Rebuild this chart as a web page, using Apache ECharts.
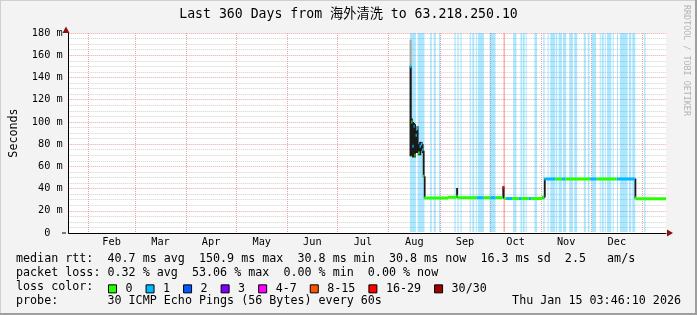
<!DOCTYPE html>
<html>
<head>
<meta charset="utf-8">
<script src="https://cdn.jsdelivr.net/npm/echarts@6/dist/echarts.min.js"></script>
<style>
  html, body { margin: 0; padding: 0; background: #f3f3f3; }
  #chart { width: 697px; height: 315px; }
</style>
</head>
<body>
<div id="chart"></div>
<script>
// time range of the graph
const START = '2025-01-20 03:46:10';
const END = '2026-01-15 03:46:10';

// month grid lines and the labels centred in each month
const monthStarts = ['2025-02-01', '2025-03-01', '2025-04-01', '2025-05-01', '2025-06-01', '2025-07-01',
  '2025-08-01', '2025-09-01', '2025-10-01', '2025-11-01', '2025-12-01', '2026-01-01'];
const monthLabels = ['Feb', 'Mar', 'Apr', 'May', 'Jun', 'Jul', 'Aug', 'Sep', 'Oct', 'Nov', 'Dec'];

// loss colour legend
const lossLabels = ['0', '1', '2', '3', '4-7', '8-15', '16-29', '30/30'];
const lossColors = ['#26ff00', '#00b8ff', '#0059ff', '#7e00ff', '#ff00ff', '#ff5500', '#ff0000', '#a00000'];

// loss background bars: [from, to, loss level]
const lossBands = [
  ['2025-08-13 20:00', '2025-08-17 10:00', 1], ['2025-08-18 11:00', '2025-08-22 15:00', 1],
  ['2025-08-26 00:00', '2025-08-27 00:00', 1], ['2025-08-28 05:00', '2025-08-29 10:00', 1],
  ['2025-08-31 10:00', '2025-09-01 03:00', 1], ['2025-09-09 15:00', '2025-09-10 10:00', 1],
  ['2025-09-11 10:00', '2025-09-12 05:00', 1], ['2025-09-13 06:00', '2025-09-14 00:00', 1],
  ['2025-09-18 20:00', '2025-09-19 14:00', 1], ['2025-09-20 10:00', '2025-09-21 15:00', 1],
  ['2025-09-22 14:00', '2025-09-23 05:00', 1], ['2025-09-23 19:00', '2025-09-27 10:00', 1],
  ['2025-09-30 20:00', '2025-10-04 10:00', 1], ['2025-10-09 05:00', '2025-10-10 02:00', 6],
  ['2025-10-15 01:00', '2025-10-17 00:00', 1], ['2025-10-19 10:00', '2025-10-20 10:00', 1],
  ['2025-10-20 19:00', '2025-10-22 00:00', 1], ['2025-10-22 14:00', '2025-10-23 00:00', 1],
  ['2025-10-27 20:00', '2025-10-29 10:00', 1], ['2025-11-02 05:00', '2025-11-03 00:00', 1],
  ['2025-11-04 19:00', '2025-11-05 10:00', 1], ['2025-11-06 10:00', '2025-11-09 10:00', 1],
  ['2025-11-09 20:00', '2025-11-10 15:00', 1], ['2025-11-11 10:00', '2025-11-13 10:00', 1],
  ['2025-11-14 01:00', '2025-11-16 00:00', 1], ['2025-11-17 20:00', '2025-11-20 01:00', 1],
  ['2025-11-20 20:00', '2025-11-22 15:00', 1], ['2025-11-26 15:00', '2025-11-27 20:00', 1],
  ['2025-11-29 01:00', '2025-11-30 00:00', 1], ['2025-12-01 10:00', '2025-12-04 00:00', 1],
  ['2025-12-06 06:00', '2025-12-06 20:00', 1], ['2025-12-07 10:00', '2025-12-08 15:00', 1],
  ['2025-12-09 06:00', '2025-12-09 20:00', 1], ['2025-12-10 15:00', '2025-12-13 05:00', 1],
  ['2025-12-14 01:00', '2025-12-14 10:00', 1], ['2025-12-16 15:00', '2025-12-17 05:00', 1],
  ['2025-12-18 10:00', '2025-12-23 01:00', 1], ['2025-12-23 20:00', '2025-12-25 05:00', 1],
  ['2025-12-25 19:00', '2025-12-27 15:00', 1], ['2026-01-02 00:00', '2026-01-02 20:00', 1]
];

// median rtt (ms) steps: [from, value, loss level]; each step runs to the next one (last to END)
const median = [
  ['2025-08-13 20:00', 150, 1], ['2025-08-14 16:00', 100, 0], ['2025-08-15 07:00', 78, 1],
  ['2025-08-16 01:00', 96, 1], ['2025-08-16 14:00', 70, 0], ['2025-08-17 06:00', 88, 1],
  ['2025-08-18 00:00', 94, 1], ['2025-08-18 19:00', 72, 0], ['2025-08-19 15:00', 78, 1],
  ['2025-08-20 10:00', 80, 1], ['2025-08-21 05:00', 75, 1], ['2025-08-21 19:00', 51, 0],
  ['2025-08-22 10:00', 31.5, 0], ['2025-09-05 19:00', 32.1, 0], ['2025-09-10 22:00', 33, 0],
  ['2025-09-11 14:00', 31.8, 0], ['2025-09-23 05:00', 31.8, 1], ['2025-09-27 05:00', 31.8, 0],
  ['2025-10-01 10:00', 31.8, 1], ['2025-10-04 10:00', 31.8, 0], ['2025-10-08 18:00', 41, 6],
  ['2025-10-09 14:00', 31.0, 0], ['2025-10-10 19:00', 31.0, 1], ['2025-10-14 10:00', 31.0, 0],
  ['2025-10-18 10:00', 31.0, 1], ['2025-10-19 20:00', 31.0, 0], ['2025-10-24 10:00', 31.0, 1],
  ['2025-10-25 20:00', 31.0, 0], ['2025-11-01 19:00', 32.5, 0], ['2025-11-02 19:00', 48.6, 1],
  ['2025-11-09 10:00', 48.6, 0], ['2025-11-13 10:00', 48.6, 1], ['2025-11-15 10:00', 48.6, 0],
  ['2025-11-30 10:00', 48.6, 1], ['2025-12-04 10:00', 48.6, 0], ['2025-12-16 10:00', 48.6, 1],
  ['2025-12-27 10:00', 31.5, 0], ['2025-12-28 00:00', 30.8, 0]
];

// smoke (spread of the pings): [from, to, low, high]
const smoke = [
  ['2025-08-13 20:00', '2025-08-14 16:00', 69, 150], ['2025-08-14 16:00', '2025-08-15 07:00', 70, 103],
  ['2025-08-15 07:00', '2025-08-16 01:00', 68, 100], ['2025-08-16 01:00', '2025-08-16 14:00', 72, 99],
  ['2025-08-16 14:00', '2025-08-17 06:00', 68, 98], ['2025-08-17 06:00', '2025-08-18 00:00', 72, 92],
  ['2025-08-18 00:00', '2025-08-18 19:00', 72, 96], ['2025-08-18 19:00', '2025-08-19 15:00', 70, 80],
  ['2025-08-19 15:00', '2025-08-20 10:00', 70, 82], ['2025-08-20 10:00', '2025-08-21 05:00', 74, 82],
  ['2025-08-21 05:00', '2025-08-21 19:00', 72, 80], ['2025-08-21 19:00', '2025-08-22 10:00', 50, 74],
  ['2025-08-22 10:00', '2025-08-23 00:00', 31, 51], ['2025-09-10 22:00', '2025-09-11 14:00', 31.5, 40.5],
  ['2025-10-08 18:00', '2025-10-09 14:00', 31, 42], ['2025-11-01 19:00', '2025-11-02 19:00', 31, 33],
  ['2025-11-02 19:00', '2025-11-03 10:00', 32, 49], ['2025-12-27 10:00', '2025-12-28 00:00', 31, 49]
];
// lighter top of the smoke
const smokeLight = [['2025-08-13 20:00', '2025-08-14 16:00', 150, 174]];

const statLines = [
  'median rtt:  40.7 ms avg  150.9 ms max  30.8 ms min  30.8 ms now  16.3 ms sd  2.5   am/s',
  'packet loss: 0.32 % avg  53.06 % max  0.00 % min  0.00 % now'
];
const probeText = 'probe:       30 ICMP Echo Pings (56 Bytes) every 60s';
const dateText = 'Thu Jan 15 03:46:10 2026';

const MONO = '"DejaVu Sans Mono", "Noto Sans CJK SC", monospace';
const ts = s => new Date(s.length > 10 ? s.replace(' ', 'T') : s + 'T00:00').getTime();

const monthMids = monthLabels.map((m, i) => (ts(monthStarts[i]) + ts(monthStarts[i + 1])) / 2);

const medianSteps = median.map((d, i) => [ts(d[0]), i + 1 < median.length ? ts(median[i + 1][0]) : ts(END), d[1], d[2]]);

// smoke columns overlap a little so the antialiased edges do not leave gaps
function rectItem(color) {
  return function (params, api) {
    const a = api.coord([api.value(0), api.value(3)]);
    const b = api.coord([api.value(1), api.value(2)]);
    return {
      type: 'rect',
      shape: { x: a[0] - 0.4, y: a[1], width: Math.max(b[0] - a[0], 1) + 0.8, height: Math.max(b[1] - a[1], 1) },
      style: { fill: color }
    };
  };
}

function medianItem(params, api) {
  const a = api.coord([api.value(0), api.value(2)]);
  const b = api.coord([api.value(1), api.value(2)]);
  return {
    type: 'rect',
    shape: { x: a[0], y: a[1] - 1.5, width: Math.max(b[0] - a[0], 1), height: 3 },
    style: { fill: api.visual('color') }
  };
}

function bandItem(params, api) {
  const a = api.coord([api.value(0), 180]);
  const b = api.coord([api.value(1), 0]);
  return {
    type: 'rect',
    shape: { x: a[0], y: a[1], width: Math.max(b[0] - a[0], 1), height: b[1] - a[1] - 1 },
    style: { fill: lossColors[api.value(2)], opacity: 0.33 }
  };
}

const series = [
  {
    type: 'custom', silent: true, renderItem: bandItem, encode: { x: [0, 1] },
    data: lossBands.map(d => [ts(d[0]), ts(d[1]), d[2]])
  },
  {
    type: 'custom', silent: true, renderItem: rectItem('#a8a8a8'), encode: { x: [0, 1], y: [2, 3] },
    data: smokeLight.map(d => [ts(d[0]), ts(d[1]), d[2], d[3]])
  },
  {
    type: 'custom', silent: true, renderItem: rectItem('#1a1a1a'), encode: { x: [0, 1], y: [2, 3] },
    data: smoke.map(d => [ts(d[0]), ts(d[1]), d[2], d[3]])
  }
].concat(lossLabels.map((name, k) => ({
  type: 'custom', name: name, silent: true, renderItem: medianItem,
  itemStyle: { color: lossColors[k] },
  encode: { x: [0, 1], y: 2 },
  data: medianSteps.filter(d => d[3] === k)
})));

const chart = echarts.init(document.getElementById('chart'));
chart.setOption({
  animation: false,
  backgroundColor: '#f3f3f3',
  grid: { left: 66, right: 31, top: 33, bottom: 82, show: true, backgroundColor: '#ffffff', borderWidth: 0 },
  legend: {
    left: 108, top: 283, padding: 0, itemWidth: 8, itemHeight: 8, itemGap: 13,
    icon: 'rect', selectedMode: false, data: lossLabels,
    itemStyle: { borderColor: '#000', borderWidth: 1 },
    textStyle: { fontFamily: MONO, fontSize: 11.7, color: '#000', padding: [0, 0, 0, 4] }
  },
  xAxis: {
    type: 'value', min: ts(START), max: ts(END),
    axisLine: { lineStyle: { color: '#000', width: 1 } },
    axisTick: { show: false, customValues: monthStarts.map(ts) },
    axisLabel: {
      customValues: monthMids,
      formatter: v => monthLabels[monthMids.indexOf(v)],
      fontFamily: MONO, fontSize: 10.25, color: '#000', margin: 4
    },
    splitLine: { show: true, lineStyle: { color: '#e8a6a6', width: 1, type: [1, 1] } }
  },
  yAxis: {
    type: 'value', min: 0, max: 180, interval: 20,
    name: 'Seconds', nameLocation: 'middle', nameGap: 49, nameRotate: 90,
    nameTextStyle: { fontFamily: MONO, fontSize: 11.7, color: '#000' },
    axisLine: { show: true, lineStyle: { color: '#000', width: 1 } },
    axisTick: { show: false },
    axisLabel: {
      formatter: v => (v === 0 ? '0  ' : v + ' m'),
      fontFamily: MONO, fontSize: 10.25, color: '#000', margin: 6
    },
    splitLine: { show: true, lineStyle: { color: '#e8a6a6', width: 1, type: [1, 1] } },
    minorTick: { show: false, splitNumber: 4 },
    minorSplitLine: { show: true, lineStyle: { color: '#d2d2d2', width: 1, type: [1, 1] } }
  },
  graphic: [
    { type: 'rect', shape: { x: 0, y: 0, width: 697, height: 1 }, style: { fill: '#cfcfcf' }, silent: true },
    { type: 'rect', shape: { x: 0, y: 0, width: 1, height: 315 }, style: { fill: '#cfcfcf' }, silent: true },
    { type: 'rect', shape: { x: 695, y: 0, width: 2, height: 315 }, style: { fill: '#9e9e9e' }, silent: true },
    { type: 'rect', shape: { x: 0, y: 313, width: 697, height: 2 }, style: { fill: '#9e9e9e' }, silent: true },
    { type: 'rect', shape: { x: 62, y: 232.5, width: 4, height: 1 }, style: { fill: '#000' }, silent: true, z: 10 },
    { type: 'polygon', shape: { points: [[667, 229.5], [673, 233], [667, 236.5]] }, style: { fill: '#8b1010' }, silent: true, z: 10 },
    { type: 'polygon', shape: { points: [[62.5, 33], [66, 26.5], [69.5, 33]] }, style: { fill: '#8b1010' }, silent: true, z: 10 },
    {
      type: 'text', x: 348.5, y: 15, silent: true,
      style: { text: 'Last 360 Days from 海外清洗 to 63.218.250.10', fontFamily: MONO, fontSize: 13.2, fill: '#000', align: 'center', verticalAlign: 'middle' }
    },
    {
      type: 'text', x: 690, y: 5, rotation: -Math.PI / 2, silent: true,
      style: { text: 'RRDTOOL / TOBI OETIKER', fontFamily: MONO, fontSize: 8.4, fill: '#b4b4b4', align: 'left', verticalAlign: 'top' }
    },
    {
      type: 'text', x: 16, y: 259, silent: true,
      style: { text: statLines[0], fontFamily: MONO, fontSize: 11.7, fill: '#000', align: 'left', verticalAlign: 'middle' }
    },
    {
      type: 'text', x: 16, y: 273, silent: true,
      style: { text: statLines[1], fontFamily: MONO, fontSize: 11.7, fill: '#000', align: 'left', verticalAlign: 'middle' }
    },
    {
      type: 'text', x: 16, y: 287, silent: true,
      style: { text: 'loss color:', fontFamily: MONO, fontSize: 11.7, fill: '#000', align: 'left', verticalAlign: 'middle' }
    },
    {
      type: 'text', x: 16, y: 301, silent: true,
      style: { text: probeText, fontFamily: MONO, fontSize: 11.7, fill: '#000', align: 'left', verticalAlign: 'middle' }
    },
    {
      type: 'text', x: 681, y: 301, silent: true,
      style: { text: dateText, fontFamily: MONO, fontSize: 11.7, fill: '#000', align: 'right', verticalAlign: 'middle' }
    }
  ],
  series: series
});
</script>
</body>
</html>
